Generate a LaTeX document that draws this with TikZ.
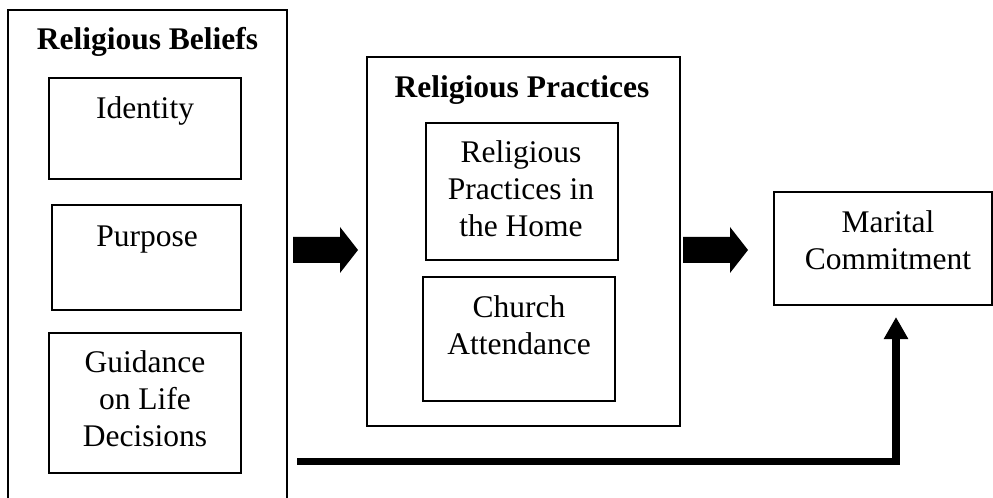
\documentclass[tikz,border=0pt]{standalone}
\usepackage{fontspec}
\setmainfont{Liberation Serif}
\usetikzlibrary{arrows.meta}
\newcommand\mlines[1]{\vtop{\halign{\hfil##\hfil\cr#1\crcr}}}
\begin{document}
\begin{tikzpicture}[x=1bp,y=-1bp,
  box/.style={draw=black,line width=1.5bp,inner sep=0pt,outer sep=0pt},
  txt/.style={anchor=base,inner sep=0pt,font=\fontsize{31.5bp}{36.7bp}\selectfont},
  ttl/.style={txt,font=\fontsize{31.5bp}{36.7bp}\selectfont\bfseries},
  blockarrow/.style={fill=black,draw=none},
  conn/.style={line width=7.5bp,-{Triangle[width=23bp,length=22bp]}}]
\useasboundingbox (0,0) rectangle (993,498);
\clip (0,0) rectangle (993,498);
% Religious Beliefs
\node[box,minimum width=279bp,minimum height=510bp] (rb) at (147.5,265) {};
\node[ttl] (rbt) at (147.5,50) {Religious Beliefs};
\node[box,minimum width=192bp,minimum height=101bp] (id) at (145,128.5) {};
\node[txt] (idt) at (145,119) {Identity};
\node[box,minimum width=189bp,minimum height=105bp] (pu) at (146.5,257.5) {};
\node[txt] (put) at (147,247) {Purpose};
\node[box,minimum width=192bp,minimum height=140bp] (gu) at (145,403) {};
\node[txt] (gut) at (145,373) {\mlines{Guidance\cr on Life\cr Decisions}};
% Religious Practices
\node[box,minimum width=313bp,minimum height=369bp] (rp) at (523.5,241.5) {};
\node[ttl] (rpt) at (522,98) {Religious Practices};
\node[box,minimum width=192bp,minimum height=137bp] (ho) at (522,191.5) {};
\node[txt] (hot) at (521,163) {\mlines{Religious\cr Practices in\cr the Home}};
\node[box,minimum width=192bp,minimum height=124bp] (ch) at (519,339) {};
\node[txt] (cht) at (519,318) {\mlines{Church\cr Attendance}};
% Marital Commitment
\node[box,minimum width=218bp,minimum height=113bp] (mc) at (883,248.5) {};
\node[txt] (mct) at (888,233) {\mlines{Marital\cr Commitment}};
% block arrows
\fill[blockarrow] (293,237) -- (340,237) -- (340,227) -- (358,250) -- (340,273) -- (340,263) -- (293,263) -- cycle;
\fill[blockarrow] (683,237) -- (730,237) -- (730,227) -- (748,250) -- (730,273) -- (730,263) -- (683,263) -- cycle;
% direct path
\coordinate (s) at (297,461.5);
\coordinate (t) at (896,317);
\draw[conn] (s) -| (t);
\end{tikzpicture}
\end{document}
